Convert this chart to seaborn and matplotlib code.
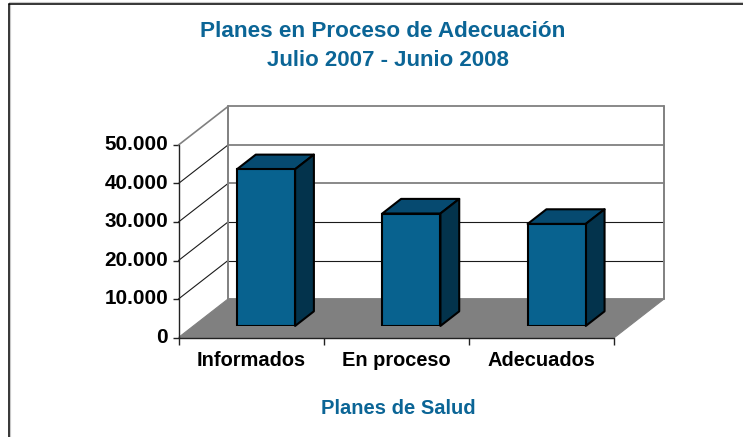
import matplotlib
matplotlib.use("Agg")
import matplotlib.pyplot as plt
from matplotlib.patches import Polygon
from matplotlib.transforms import ScaledTranslation
import pandas as pd
import seaborn as sns

categories = ["Informados", "En proceso", "Adecuados"]
values = [40700, 29200, 26500]
y_ticks = [0, 10000, 20000, 30000, 40000, 50000]
y_tick_labels = ["0", "10.000", "20.000", "30.000", "40.000", "50.000"]
title_lines = ["Planes en Proceso de Adecuación", "Julio 2007 - Junio 2008"]
x_title = "Planes de Salud"

W, H = 743, 437
BLUE, TOP, SIDE = "#08628f", "#064a70", "#03334c"
GREY = "#808080"
DARK = "#1a1a1a"
TEXT_BLUE = "#0b6596"
BACK_COLORS = {0: GREY, 10000: DARK, 20000: DARK, 30000: GREY, 40000: GREY, 50000: GREY}
BACK_LW = {0: 1.2, 10000: 0.8, 20000: 0.8, 30000: 1.3, 40000: 1.3, 50000: 1.3}

sns.set_theme(style="white")
plt.rcParams["font.family"] = ["Liberation Sans", "DejaVu Sans"]

fig = plt.figure(figsize=(W / 100, H / 100), dpi=100, facecolor="white")


def axes_px(left, right, top, bottom):
    return fig.add_axes([left / W, 1 - bottom / H, (right - left) / W, (bottom - top) / H])


# front plane of the 3D box
PX_L, PX_R, PX_T, PX_B = 178.5, 614.5, 145.0, 337.5
ax = axes_px(PX_L, PX_R, PX_T, PX_B)
ax.set_xlim(-0.5, 2.5)
ax.set_ylim(0, 50000)
ax.patch.set_alpha(0)
for s in ax.spines.values():
    s.set_visible(False)

# depth vector of the whole box, in data units
px_per_cat = (PX_R - PX_L) / 3
px_per_val = (PX_B - PX_T) / 50000
DX = 49.5 / px_per_cat
DY = 38.5 / px_per_val
x0, x1 = -0.5, 2.5

# floor
ax.add_patch(Polygon([(x0, 0), (x1, 0), (x1 + DX, DY), (x0 + DX, DY)], closed=True,
                     fc=GREY, ec=GREY, lw=0.8, clip_on=False, zorder=1))
# grid lines on side and back walls
for t in y_ticks:
    ax.plot([x0 + DX, x1 + DX], [t + DY, t + DY], color=BACK_COLORS[t], lw=BACK_LW[t],
            clip_on=False, zorder=2)
    if t > 0:
        top = t == y_ticks[-1]
        ax.plot([x0, x0 + DX], [t, t + DY], color=GREY if top else DARK, lw=1.2 if top else 0.8,
                clip_on=False, zorder=2)
for xx in (x0 + DX, x1 + DX):
    ax.plot([xx, xx], [DY, y_ticks[-1] + DY], color=GREY, lw=1.4, clip_on=False, zorder=2)

# front axis lines and ticks
ax.plot([x0, x1], [0, 0], color="#222222", lw=1.0, clip_on=False, zorder=3)
ax.plot([x0, x0], [0, y_ticks[-1]], color="#222222", lw=1.0, clip_on=False, zorder=3)
ax.set_yticks(y_ticks, y_tick_labels, fontsize=14.9, fontweight="bold", color="black")
ax.set_xticks([-0.5, 0.5, 1.5, 2.5], ["", "", "", ""])
ax.tick_params(axis="y", length=4, width=1, color="#222222", pad=3.5, left=True)
ax.tick_params(axis="x", length=5, width=1, color="#222222", bottom=True)
lift = ScaledTranslation(0, 2 / 100, fig.dpi_scale_trans)
for lab in ax.get_yticklabels():
    lab.set_transform(lab.get_transform() + lift)
for i, c in enumerate(categories):
    ax.text(i, -5850, c, ha="center", va="center", fontsize=14.4, fontweight="bold", color="black")

# bars sit 30 % into the box: same scales, shifted axes
SHIFT = 0.3
px_dx, px_dy = SHIFT * 49.5, SHIFT * 38.5
ax_bars = axes_px(PX_L + px_dx, PX_R + px_dx, PX_T - px_dy, PX_B - px_dy)
df = pd.DataFrame({"categoria": categories, "valor": values})
sns.barplot(data=df, x="categoria", y="valor", ax=ax_bars, color=BLUE, saturation=1,
            width=0.4, edgecolor="black", linewidth=1.5, zorder=5)
ax_bars.set_xlim(-0.5, 2.5)
ax_bars.set_ylim(0, 50000)
ax_bars.axis("off")

BAR_DX, BAR_DY = 0.38 * DX, 0.38 * DY
for bar in ax_bars.patches[:]:
    l, r = bar.get_x(), bar.get_x() + bar.get_width()
    h = bar.get_height()
    ax_bars.add_patch(Polygon([(l, h), (r, h), (r + BAR_DX, h + BAR_DY), (l + BAR_DX, h + BAR_DY)],
                              closed=True, fc=TOP, ec="black", lw=1.5, clip_on=False,
                              joinstyle="round", zorder=4))
    ax_bars.add_patch(Polygon([(r, 0), (r + BAR_DX, BAR_DY), (r + BAR_DX, h + BAR_DY), (r, h)],
                              closed=True, fc=SIDE, ec="black", lw=1.5, clip_on=False,
                              joinstyle="round", zorder=4))

# titles
fig.text(382.5 / W, 1 - 31.5 / H, title_lines[0], ha="center", va="center", fontsize=16.2,
         fontweight="bold", color=TEXT_BLUE)
fig.text(387.5 / W, 1 - 60.5 / H, title_lines[1], ha="center", va="center", fontsize=16,
         fontweight="bold", color=TEXT_BLUE)
fig.text(398.5 / W, 1 - 408.5 / H, x_title, ha="center", va="center", fontsize=14.5,
         fontweight="bold", color=TEXT_BLUE)

# chart-area border with its faint shadow
fig.add_artist(plt.Line2D([10 / W, 10 / W], [0, 1 - 4 / H], color="#c8c8c8", lw=0.8))
fig.add_artist(plt.Line2D([9 / W, 1], [1 - 2 / H, 1 - 2 / H], color="#c8c8c8", lw=0.8))
fig.add_artist(plt.Line2D([8.8 / W, 8.8 / W], [0, 1 - 3.5 / H], color="black", lw=1.1))
fig.add_artist(plt.Line2D([8.8 / W, 1], [1 - 3.5 / H, 1 - 3.5 / H], color="black", lw=1.1))

fig.savefig("out.png", dpi=100, facecolor="white")
